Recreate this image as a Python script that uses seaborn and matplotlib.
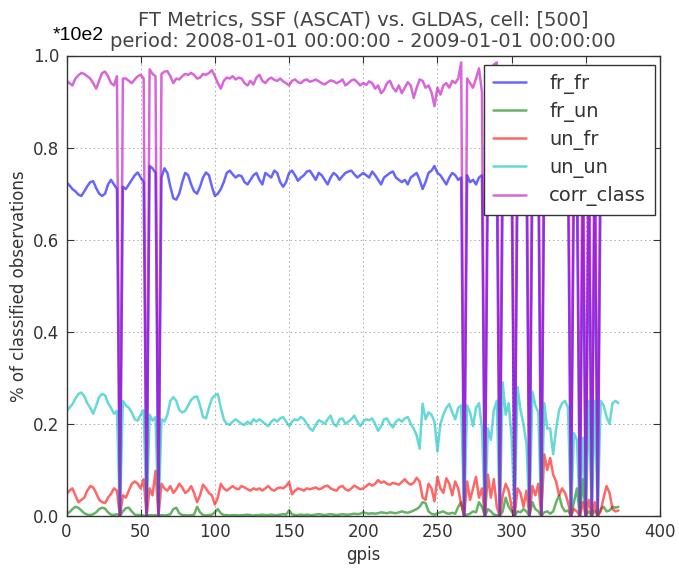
import matplotlib
matplotlib.use("Agg")
import matplotlib.pyplot as plt
import seaborn as sns
import pandas as pd

# ---------------- data ----------------
gpis = list(range(0, 373, 2))

corr_class = [
    0.945, 0.940, 0.935, 0.950, 0.957, 0.962, 0.960, 0.955, 0.950, 0.940,
    0.928, 0.945, 0.962, 0.965, 0.955, 0.940, 0.935, 0.955, 0.0, 0.950,
    0.950, 0.945, 0.940, 0.948, 0.955, 0.958, 0.950, 0.0, 0.970, 0.960,
    0.955, 0.0, 0.960, 0.965, 0.966, 0.955, 0.940, 0.950, 0.948, 0.955,
    0.960, 0.958, 0.962, 0.958, 0.950, 0.952, 0.960, 0.958, 0.962, 0.968,
    0.955, 0.940, 0.928, 0.945, 0.952, 0.950, 0.955, 0.948, 0.952, 0.950,
    0.940, 0.935, 0.945, 0.937, 0.952, 0.958, 0.945, 0.940, 0.948, 0.952,
    0.947, 0.945, 0.950, 0.944, 0.940, 0.935, 0.945, 0.948, 0.942, 0.940,
    0.946, 0.948, 0.943, 0.945, 0.948, 0.944, 0.940, 0.937, 0.942, 0.946,
    0.944, 0.940, 0.943, 0.948, 0.935, 0.940, 0.946, 0.948, 0.942, 0.935,
    0.940, 0.936, 0.944, 0.940, 0.928, 0.935, 0.918, 0.925, 0.940, 0.945,
    0.930, 0.922, 0.935, 0.918, 0.930, 0.942, 0.935, 0.908, 0.930, 0.948,
    0.945, 0.930, 0.935, 0.920, 0.890, 0.930, 0.915, 0.935, 0.940, 0.930,
    0.945, 0.940, 0.950, 0.985, 0.0, 0.950, 0.940, 0.930, 0.950, 0.972,
    0.920, 0.0, 0.950, 0.970, 0.980, 0.985, 0.0, 0.940, 0.935, 0.945,
    0.930, 0.0, 0.945, 0.935, 0.925, 0.940, 0.0, 0.935, 0.945, 0.930,
    0.0, 0.945, 0.920, 0.930, 0.915, 0.935, 0.940, 0.945, 0.935, 0.940,
    0.0, 0.925, 0.910, 0.0, 0.920, 0.0, 0.945, 0.0, 0.940, 0.0,
    0.945, 0.935, 0.925, 0.920, 0.940, 0.945, 0.940,
]

fr_fr = [
    0.725, 0.718, 0.710, 0.705, 0.698, 0.695, 0.705, 0.716, 0.725, 0.727,
    0.712, 0.700, 0.695, 0.700, 0.720, 0.730, 0.720, 0.710, 0.0, 0.715,
    0.710, 0.720, 0.730, 0.740, 0.746, 0.735, 0.725, 0.0, 0.760, 0.755,
    0.745, 0.0, 0.735, 0.755, 0.745, 0.715, 0.690, 0.687, 0.700, 0.725,
    0.745, 0.740, 0.720, 0.705, 0.700, 0.715, 0.735, 0.746, 0.740, 0.715,
    0.695, 0.700, 0.710, 0.725, 0.745, 0.750, 0.742, 0.735, 0.740, 0.738,
    0.725, 0.720, 0.730, 0.740, 0.745, 0.730, 0.720, 0.745, 0.740, 0.735,
    0.750, 0.745, 0.725, 0.715, 0.725, 0.745, 0.750, 0.740, 0.728, 0.735,
    0.740, 0.748, 0.750, 0.740, 0.730, 0.745, 0.740, 0.730, 0.720, 0.735,
    0.745, 0.740, 0.730, 0.738, 0.745, 0.748, 0.750, 0.742, 0.735, 0.740,
    0.745, 0.740, 0.735, 0.748, 0.740, 0.730, 0.720, 0.735, 0.740, 0.745,
    0.748, 0.735, 0.730, 0.725, 0.730, 0.720, 0.735, 0.740, 0.745, 0.730,
    0.710, 0.725, 0.745, 0.750, 0.760, 0.745, 0.740, 0.730, 0.720, 0.735,
    0.745, 0.740, 0.730, 0.735, 0.0, 0.740, 0.725, 0.730, 0.720, 0.735,
    0.740, 0.0, 0.735, 0.725, 0.730, 0.740, 0.0, 0.720, 0.730, 0.735,
    0.725, 0.0, 0.735, 0.730, 0.720, 0.735, 0.0, 0.730, 0.740, 0.725,
    0.0, 0.735, 0.720, 0.730, 0.715, 0.725, 0.735, 0.740, 0.730, 0.735,
    0.0, 0.720, 0.710, 0.0, 0.715, 0.0, 0.730, 0.0, 0.725, 0.0,
    0.735, 0.725, 0.715, 0.710, 0.725, 0.730, 0.728,
]

un_un = [
    0.228, 0.235, 0.243, 0.255, 0.265, 0.268, 0.260, 0.245, 0.235, 0.222,
    0.240, 0.258, 0.265, 0.262, 0.245, 0.235, 0.222, 0.228, 0.0, 0.250,
    0.240, 0.235, 0.225, 0.210, 0.207, 0.220, 0.230, 0.0, 0.220, 0.207,
    0.215, 0.0, 0.210, 0.205, 0.220, 0.250, 0.258, 0.250, 0.230, 0.225,
    0.228, 0.240, 0.252, 0.258, 0.260, 0.240, 0.215, 0.212, 0.235, 0.255,
    0.262, 0.265, 0.235, 0.210, 0.200, 0.198, 0.205, 0.210, 0.205, 0.200,
    0.198, 0.205, 0.200, 0.210, 0.205, 0.210, 0.205, 0.200, 0.195, 0.205,
    0.210, 0.205, 0.212, 0.215, 0.205, 0.195, 0.205, 0.210, 0.208, 0.215,
    0.210, 0.200, 0.190, 0.185, 0.198, 0.208, 0.205, 0.200, 0.210, 0.218,
    0.200, 0.195, 0.210, 0.212, 0.200, 0.205, 0.210, 0.218, 0.205, 0.195,
    0.205, 0.210, 0.208, 0.212, 0.200, 0.185, 0.195, 0.210, 0.212, 0.200,
    0.192, 0.205, 0.210, 0.205, 0.212, 0.215, 0.200, 0.190, 0.175, 0.146,
    0.244, 0.210, 0.225, 0.220, 0.205, 0.140, 0.200, 0.220, 0.235, 0.243,
    0.225, 0.210, 0.235, 0.240, 0.0, 0.240, 0.225, 0.195, 0.235, 0.245,
    0.190, 0.0, 0.190, 0.165, 0.230, 0.250, 0.0, 0.290, 0.220, 0.245,
    0.170, 0.0, 0.280, 0.230, 0.200, 0.155, 0.0, 0.270, 0.240, 0.225,
    0.0, 0.245, 0.190, 0.190, 0.134, 0.190, 0.230, 0.245, 0.250, 0.235,
    0.0, 0.180, 0.165, 0.0, 0.170, 0.0, 0.250, 0.0, 0.250, 0.0,
    0.250, 0.240, 0.215, 0.200, 0.245, 0.250, 0.245,
]

un_fr = [
    0.047, 0.055, 0.060, 0.045, 0.030, 0.035, 0.040, 0.055, 0.065, 0.062,
    0.050, 0.035, 0.030, 0.028, 0.040, 0.048, 0.060, 0.055, 0.0, 0.045,
    0.040, 0.055, 0.070, 0.075, 0.070, 0.060, 0.080, 0.0, 0.060, 0.045,
    0.098, 0.0, 0.070, 0.060, 0.055, 0.065, 0.050, 0.058, 0.070, 0.062,
    0.050, 0.055, 0.065, 0.050, 0.030, 0.045, 0.068, 0.060, 0.050, 0.045,
    0.025, 0.040, 0.070, 0.060, 0.055, 0.060, 0.065, 0.060, 0.058, 0.065,
    0.062, 0.058, 0.055, 0.060, 0.057, 0.060, 0.055, 0.060, 0.065, 0.058,
    0.055, 0.060, 0.062, 0.060, 0.065, 0.074, 0.047, 0.055, 0.060, 0.058,
    0.055, 0.060, 0.058, 0.060, 0.062, 0.058, 0.060, 0.064, 0.066, 0.060,
    0.057, 0.055, 0.063, 0.065, 0.058, 0.055, 0.060, 0.066, 0.062, 0.058,
    0.060, 0.065, 0.070, 0.066, 0.070, 0.078, 0.072, 0.075, 0.070, 0.068,
    0.072, 0.070, 0.068, 0.074, 0.080, 0.072, 0.068, 0.072, 0.083, 0.075,
    0.040, 0.035, 0.070, 0.060, 0.032, 0.085, 0.060, 0.050, 0.082, 0.070,
    0.045, 0.075, 0.060, 0.025, 0.0, 0.075, 0.035, 0.060, 0.085, 0.040,
    0.060, 0.0, 0.090, 0.040, 0.080, 0.020, 0.0, 0.045, 0.070, 0.055,
    0.020, 0.0, 0.060, 0.050, 0.020, 0.055, 0.0, 0.065, 0.045, 0.070,
    0.0, 0.134, 0.100, 0.126, 0.090, 0.075, 0.045, 0.060, 0.050, 0.030,
    0.0, 0.015, 0.010, 0.0, 0.030, 0.0, 0.035, 0.0, 0.030, 0.0,
    0.010, 0.040, 0.065, 0.050, 0.015, 0.010, 0.012,
]

fr_un = [
    0.005, 0.008, 0.015, 0.020, 0.018, 0.012, 0.006, 0.003, 0.002, 0.004,
    0.008, 0.015, 0.018, 0.016, 0.008, 0.003, 0.002, 0.004, 0.0, 0.010,
    0.017, 0.018, 0.010, 0.003, 0.002, 0.002, 0.001, 0.0, 0.002, 0.001,
    0.002, 0.0, 0.002, 0.001, 0.002, 0.004, 0.015, 0.018, 0.006, 0.002,
    0.002, 0.001, 0.002, 0.003, 0.020, 0.008, 0.002, 0.001, 0.002, 0.003,
    0.008, 0.015, 0.006, 0.002, 0.002, 0.001, 0.002, 0.002, 0.001, 0.002,
    0.002, 0.003, 0.002, 0.001, 0.002, 0.002, 0.003, 0.002, 0.002, 0.003,
    0.002, 0.002, 0.003, 0.004, 0.003, 0.012, 0.004, 0.002, 0.002, 0.003,
    0.002, 0.003, 0.002, 0.002, 0.003, 0.004, 0.003, 0.002, 0.003, 0.004,
    0.003, 0.002, 0.003, 0.004, 0.003, 0.003, 0.004, 0.005, 0.004, 0.005,
    0.008, 0.006, 0.005, 0.006, 0.005, 0.006, 0.008, 0.007, 0.006, 0.008,
    0.007, 0.006, 0.008, 0.010, 0.008, 0.007, 0.009, 0.012, 0.015, 0.020,
    0.030, 0.028, 0.010, 0.005, 0.003, 0.006, 0.008, 0.010, 0.006, 0.005,
    0.007, 0.005, 0.020, 0.030, 0.0, 0.003, 0.005, 0.010, 0.008, 0.030,
    0.020, 0.0, 0.015, 0.010, 0.003, 0.002, 0.0, 0.010, 0.040, 0.020,
    0.010, 0.0, 0.010, 0.008, 0.015, 0.010, 0.0, 0.030, 0.015, 0.010,
    0.0, 0.008, 0.010, 0.005, 0.010, 0.030, 0.045, 0.020, 0.010, 0.012,
    0.0, 0.030, 0.060, 0.0, 0.080, 0.0, 0.010, 0.0, 0.012, 0.0,
    0.015, 0.020, 0.010, 0.012, 0.020, 0.018, 0.020,
]

series_names = ["fr_fr", "fr_un", "un_fr", "un_un", "corr_class"]
series_colors = [(0, 0, 1), (0, 0.5, 0), (1, 0, 0), (0, 0.75, 0.75), (0.75, 0, 0.75)]

title_text = ("FT Metrics, SSF (ASCAT) vs. GLDAS, cell: [500]\n"
              "period: 2008-01-01 00:00:00 - 2009-01-01 00:00:00")

# ---------------- figure ----------------
sns.set_theme(style="ticks")
plt.rcParams["font.family"] = ["DejaVu Sans"]
plt.rcParams["text.color"] = "#333333"
plt.rcParams["axes.labelcolor"] = "#333333"
plt.rcParams["xtick.color"] = "#333333"
plt.rcParams["ytick.color"] = "#333333"

df = pd.DataFrame({"gpis": gpis, "fr_fr": fr_fr, "fr_un": fr_un,
                   "un_fr": un_fr, "un_un": un_un, "corr_class": corr_class})

W, H = 679, 569
fig = plt.figure(figsize=(W / 100, H / 100), dpi=100)
left, right, top, bottom = 66.5, 660, 55.5, 516
ax = fig.add_axes([left / W, 1 - bottom / H, (right - left) / W, (bottom - top) / H])

for name, col in zip(series_names, series_colors):
    sns.lineplot(data=df, x="gpis", y=name, ax=ax, color=col, alpha=0.6,
                 linewidth=1.8, label=name)

ax.set_xlim(0, 400)
ax.set_ylim(0, 1.0)
ax.set_xticks(list(range(0, 401, 50)))
ax.set_yticks([0.0, 0.2, 0.4, 0.6, 0.8, 1.0])
ax.yaxis.set_major_formatter(matplotlib.ticker.FormatStrFormatter("%.1f"))
ax.grid(True, linestyle=(0, (1.5, 3)), color="#aaaaaa", linewidth=0.7)
ax.tick_params(direction="in", top=True, right=True, length=5, width=0.8,
               labelsize=12, pad=5)
for sp in ax.spines.values():
    sp.set_visible(True)
    sp.set_color("#333333")
    sp.set_linewidth(1.0)

ax.set_xlabel("gpis", fontsize=12)
ax.set_ylabel("% of classified observations", fontsize=12)
ax.set_title(title_text, fontsize=14, linespacing=1.15, pad=6, color="#444444")

leg = ax.legend(loc="upper right", bbox_to_anchor=((655 - left) / (right - left), (bottom - 65) / (bottom - top)),
                borderaxespad=0, fontsize=14, frameon=True, fancybox=False,
                edgecolor="#333333", framealpha=1, handlelength=1.7,
                handletextpad=1.2, borderpad=0.45, labelspacing=0.42)
leg.get_frame().set_linewidth(1.0)

fig.text(53 / W, 1 - 36 / H, "*10e2", family="Liberation Sans", fontsize=14,
         color="black", va="center", ha="left")

fig.savefig("out.png", dpi=100)
